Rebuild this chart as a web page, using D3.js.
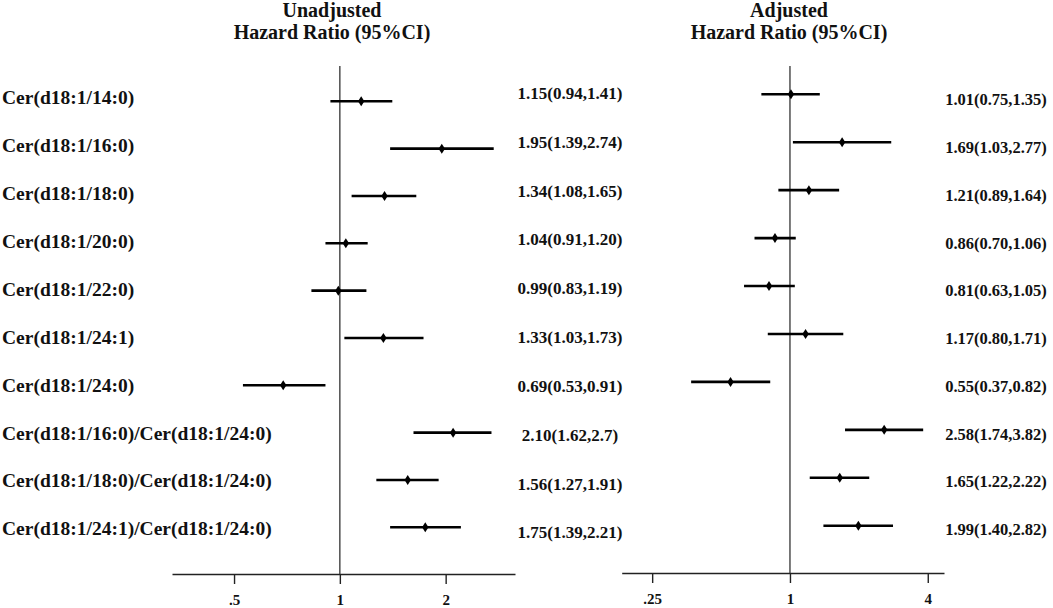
<!DOCTYPE html>
<html>
<head>
  <meta charset="utf-8">
  <style>
    body { margin: 0; background: #fff; }
    svg text {
      font-family: "Liberation Serif", "Times New Roman", serif;
      font-weight: bold;
      fill: #111;
    }
    .ci { stroke: #000; stroke-width: 2.6; }
    .ref { stroke: #333; stroke-width: 1.3; }
    .axis path, .axis line { stroke: #222; stroke-width: 1.4; }
  </style>
  <script src="https://d3js.org/d3.v7.min.js"></script>
</head>
<body>
  <div id="chartContainer"></div>

  <script>
    // row labels
    var labels = [
      "Cer(d18:1/14:0)", "Cer(d18:1/16:0)", "Cer(d18:1/18:0)", "Cer(d18:1/20:0)",
      "Cer(d18:1/22:0)", "Cer(d18:1/24:1)", "Cer(d18:1/24:0)",
      "Cer(d18:1/16:0)/Cer(d18:1/24:0)", "Cer(d18:1/18:0)/Cer(d18:1/24:0)",
      "Cer(d18:1/24:1)/Cer(d18:1/24:0)"
    ];

    // unadjusted hazard ratios
    var unadjHR = [1.15, 1.95, 1.34, 1.04, 0.99, 1.33, 0.69, 2.10, 1.56, 1.75];
    var unadjLo = [0.94, 1.39, 1.08, 0.91, 0.83, 1.03, 0.53, 1.62, 1.27, 1.39];
    var unadjHi = [1.41, 2.74, 1.65, 1.20, 1.19, 1.73, 0.91, 2.7, 1.91, 2.21];
    var unadjText = [
      "1.15(0.94,1.41)", "1.95(1.39,2.74)", "1.34(1.08,1.65)", "1.04(0.91,1.20)",
      "0.99(0.83,1.19)", "1.33(1.03,1.73)", "0.69(0.53,0.91)", "2.10(1.62,2.7)",
      "1.56(1.27,1.91)", "1.75(1.39,2.21)"
    ];

    // adjusted hazard ratios
    var adjHR = [1.01, 1.69, 1.21, 0.86, 0.81, 1.17, 0.55, 2.58, 1.65, 1.99];
    var adjLo = [0.75, 1.03, 0.89, 0.70, 0.63, 0.80, 0.37, 1.74, 1.22, 1.40];
    var adjHi = [1.35, 2.77, 1.64, 1.06, 1.05, 1.71, 0.82, 3.82, 2.22, 2.82];
    var adjText = [
      "1.01(0.75,1.35)", "1.69(1.03,2.77)", "1.21(0.89,1.64)", "0.86(0.70,1.06)",
      "0.81(0.63,1.05)", "1.17(0.80,1.71)", "0.55(0.37,0.82)", "2.58(1.74,3.82)",
      "1.65(1.22,2.22)", "1.99(1.40,2.82)"
    ];

    // axis ticks
    var unadjTicks = [0.5, 1, 2];
    var unadjTickLabels = [".5", "1", "2"];
    var adjTicks = [0.25, 1, 4];
    var adjTickLabels = [".25", "1", "4"];

    var svgWidth = 1053, svgHeight = 608;

    var svg = d3.select("#chartContainer")
      .append("svg")
      .attr("width", svgWidth)
      .attr("height", svgHeight);

    var idx = d3.range(labels.length);

    // row label column
    var yLabel = d3.scalePoint().domain(idx).range([97.5, 528.5]);
    svg.selectAll(".row-label")
      .data(idx)
      .enter()
      .append("text")
      .attr("class", "row-label")
      .attr("x", 2)
      .attr("y", function (i) { return yLabel(i); })
      .attr("dy", "0.35em")
      .style("font-size", "19.5px")
      .text(function (i) { return labels[i]; });

    function drawPanel(opt) {
      var x = d3.scaleLog().domain(opt.domain).range(opt.range);
      var yMark = d3.scalePoint().domain(idx).range(opt.markRange);
      var yText = d3.scalePoint().domain(idx).range(opt.textRange);

      // header
      var head = svg.append("text")
        .attr("text-anchor", "middle")
        .style("font-size", "20px");
      head.append("tspan").attr("x", opt.headX).attr("y", 16.5).text(opt.title);
      head.append("tspan").attr("x", opt.headX).attr("y", 39).text("Hazard Ratio (95%CI)");

      // axis
      var axis = svg.append("g")
        .attr("class", "axis")
        .attr("transform", "translate(0," + opt.axisY + ")")
        .call(d3.axisBottom(x)
          .tickValues(opt.ticks)
          .tickFormat(function (d, i) { return opt.tickLabels[i]; })
          .tickSize(10)
          .tickSizeOuter(0)
          .tickPadding(10));
      axis.selectAll("text")
        .style("font-size", "15px")
        .style("font-family", "'Liberation Serif', serif")
        .style("font-weight", "bold")
        .attr("fill", "#111");

      // reference line at HR = 1
      svg.append("line")
        .attr("class", "ref")
        .attr("x1", x(1)).attr("x2", x(1))
        .attr("y1", 66).attr("y2", opt.axisY);

      // confidence intervals
      svg.selectAll(".ci-" + opt.key)
        .data(idx)
        .enter()
        .append("line")
        .attr("class", "ci ci-" + opt.key)
        .attr("x1", function (i) { return x(opt.lo[i]); })
        .attr("x2", function (i) { return x(opt.hi[i]); })
        .attr("y1", function (i) { return yMark(i); })
        .attr("y2", function (i) { return yMark(i); });

      // point estimates (diamonds)
      svg.selectAll(".pt-" + opt.key)
        .data(idx)
        .enter()
        .append("path")
        .attr("class", "pt-" + opt.key)
        .attr("d", function (i) {
          var cx = x(opt.hr[i]), cy = yMark(i);
          return "M" + cx + "," + (cy - 5) + "L" + (cx + 3.2) + "," + cy +
            "L" + cx + "," + (cy + 5) + "L" + (cx - 3.2) + "," + cy + "Z";
        })
        .attr("fill", "#000");

      // value text
      svg.selectAll(".val-" + opt.key)
        .data(idx)
        .enter()
        .append("text")
        .attr("class", "val-" + opt.key)
        .attr("x", opt.textX)
        .attr("y", function (i) { return yText(i); })
        .attr("dy", "0.35em")
        .attr("text-anchor", "middle")
        .style("font-size", opt.textSize)
        .text(function (i) { return opt.text[i]; });
    }

    drawPanel({
      key: "u", title: "Unadjusted", headX: 332,
      domain: [0.333, 3.15], range: [172, 515], axisY: 574,
      ticks: unadjTicks, tickLabels: unadjTickLabels,
      hr: unadjHR, lo: unadjLo, hi: unadjHi, text: unadjText,
      markRange: [101.3, 527.3], textRange: [93, 532.5],
      textX: 570, textSize: "17px"
    });

    drawPanel({
      key: "a", title: "Adjusted", headX: 789,
      domain: [0.184, 4.71], range: [621.7, 944], axisY: 573,
      ticks: adjTicks, tickLabels: adjTickLabels,
      hr: adjHR, lo: adjLo, hi: adjHi, text: adjText,
      markRange: [94.3, 525.7], textRange: [99.5, 529.5],
      textX: 996, textSize: "16.5px"
    });
  </script>
</body>
</html>
